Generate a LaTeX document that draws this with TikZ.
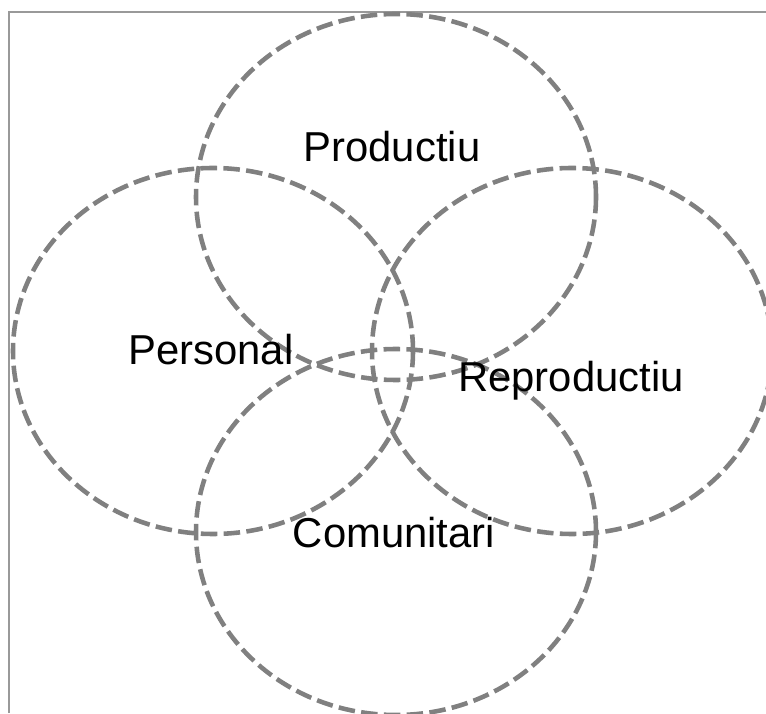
\documentclass[tikz,border=0pt]{standalone}
\usepackage{fontspec}
\setmainfont{Liberation Sans}
\usetikzlibrary{positioning}

\tikzset{
    ring/.style={draw=gray, line width=2.6pt, dash pattern=on 9.4pt off 3.6pt},
    label/.style={anchor=base, text=black, font=\fontsize{23.8}{28}\selectfont}
}

\begin{document}
\begin{tikzpicture}[x=0.02cm, y=0.02cm]
        \useasboundingbox (0,0) rectangle (766,713);
        \clip (0,0) rectangle (766,713);

        % Frame (top and left edges only)
        \draw[gray!80, line width=0.9pt] (9,0) -- (9,701) -- (766,701);

        % Four overlapping rings
        \foreach \cx/\cy in {396/516, 213/362, 572/362, 396/181}
            \draw[ring] (\cx,\cy) ellipse (200 and 183);

        % Labels
        \node[label] (prod) at (392,551) {Productiu};
        \node[label] (pers) at (211,348) {Personal};
        \node[label] (repr) at (571,321) {Reproductiu};
        \node[label] (comu) at (394,166) {Comunitari};
    \end{tikzpicture}
\end{document}
